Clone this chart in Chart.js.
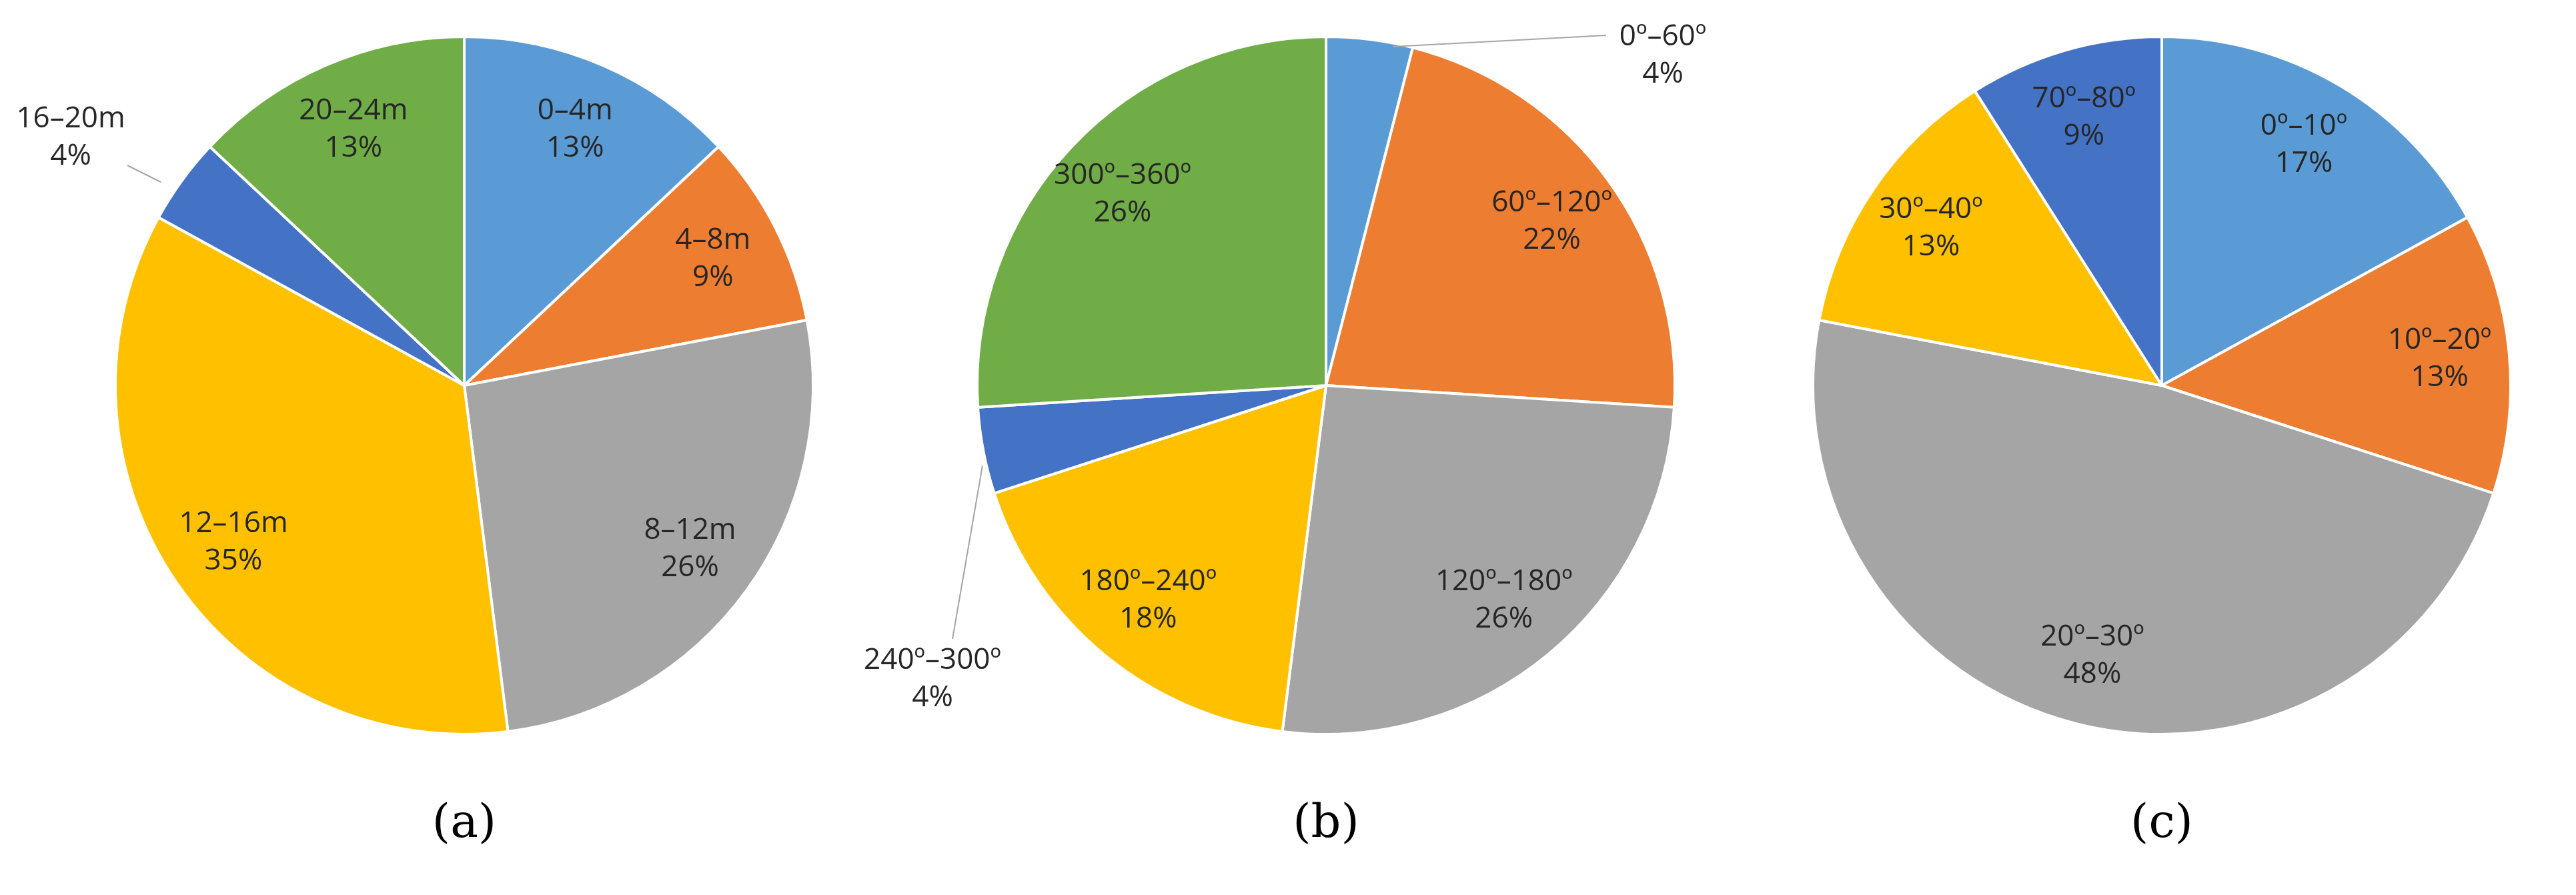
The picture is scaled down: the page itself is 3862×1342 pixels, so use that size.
<!DOCTYPE html>
<html><head><meta charset="utf-8">
<script src="https://cdn.jsdelivr.net/npm/chart.js@4"></script>
<style>
body{margin:0;background:#fff;width:3862px;height:1342px;position:relative;overflow:hidden}
.box{position:absolute;top:0;height:1160px}
.cap{position:absolute;font-family:"DejaVu Serif","Liberation Serif",serif;font-size:70px;color:#000;transform:translateX(-50%)}
</style></head><body>
<div class="box" style="left:0px;width:1392px"><canvas id="ca"></canvas></div>
<div class="box" style="left:1292px;width:1392px"><canvas id="cb"></canvas></div>
<div class="box" style="left:2620px;width:1242px"><canvas id="cc"></canvas></div>
<div class="cap" style="left:696px;top:1190px">(a)</div>
<div class="cap" style="left:1988px;top:1190px">(b)</div>
<div class="cap" style="left:3241px;top:1190px">(c)</div>
<script>
const catsA = ["0–4m","4–8m","8–12m","12–16m","16–20m","20–24m"];
const valsA = [13,9,26,35,4,13];
const catsB = ["0º–60º","60º–120º","120º–180º","180º–240º","240º–300º","300º–360º"];
const valsB = [4,22,26,18,4,26];
const catsC = ["0º–10º","10º–20º","20º–30º","30º–40º","70º–80º"];
const valsC = [17,13,48,13,9];
const colors = ["#5B9BD5","#ED7D31","#A5A5A5","#FFC000","#4472C4","#70AD47"];
const colorsC = ["#5B9BD5","#ED7D31","#A5A5A5","#FFC000","#4472C4"];
const outside = {
  ca: {4: {x:-590, y:-372, lx:-505, ly:-330, ex:-455, ey:-305}},
  cb: {0: {x:505, y:-495, lx:420, ly:-525, ex:100, ey:-508},
       4: {x:-590, y:440, lx:-560, ly:380, ex:-515, ey:120}}
};
const labelPlugin = {
  id:'lbl',
  afterDatasetsDraw(chart){
    const ctx = chart.ctx, meta = chart.getDatasetMeta(0);
    const cats = chart.data.labels, vals = chart.data.datasets[0].data;
    const out = outside[chart.canvas.id] || {};
    ctx.save();
    ctx.font = '44px "Open Sans", sans-serif';
    ctx.fillStyle = '#262626';
    ctx.textAlign = 'center'; ctx.textBaseline = 'middle';
    meta.data.forEach((arc,i)=>{
      const cx = arc.x, cy = arc.y;
      const t1 = cats[i], t2 = vals[i] + '%';
      if (out[i]) {
        const o = out[i];
        ctx.strokeStyle = '#A6A6A6'; ctx.lineWidth = 2;
        ctx.beginPath(); ctx.moveTo(cx+o.lx, cy+o.ly);
        ctx.lineTo(cx+o.ex, cy+o.ey); ctx.stroke();
        ctx.fillText(t1, cx+o.x, cy+o.y-28);
        ctx.fillText(t2, cx+o.x, cy+o.y+28);
      } else {
        const a = (arc.startAngle+arc.endAngle)/2, r = arc.outerRadius*0.8;
        const x = cx + Math.cos(a)*r, y = cy + Math.sin(a)*r;
        ctx.fillText(t1, x, y-28);
        ctx.fillText(t2, x, y+28);
      }
    });
    ctx.restore();
  }
};
function make(id, cats, vals, cols, side){
  new Chart(document.getElementById(id), {
    type:'pie',
    data:{labels:cats, datasets:[{data:vals, backgroundColor:cols, borderColor:'#fff', borderWidth:4}]},
    options:{responsive:true, maintainAspectRatio:false, animation:false,
      layout:{padding:{left:side, right:side, top:53, bottom:57}},
      plugins:{legend:{display:false}, tooltip:{enabled:false}}},
    plugins:[labelPlugin]
  });
}
make('ca', catsA, valsA, colors, 171);
make('cb', catsB, valsB, colors, 171);
make('cc', catsC, valsC, colorsC, 96);
</script></body></html>
